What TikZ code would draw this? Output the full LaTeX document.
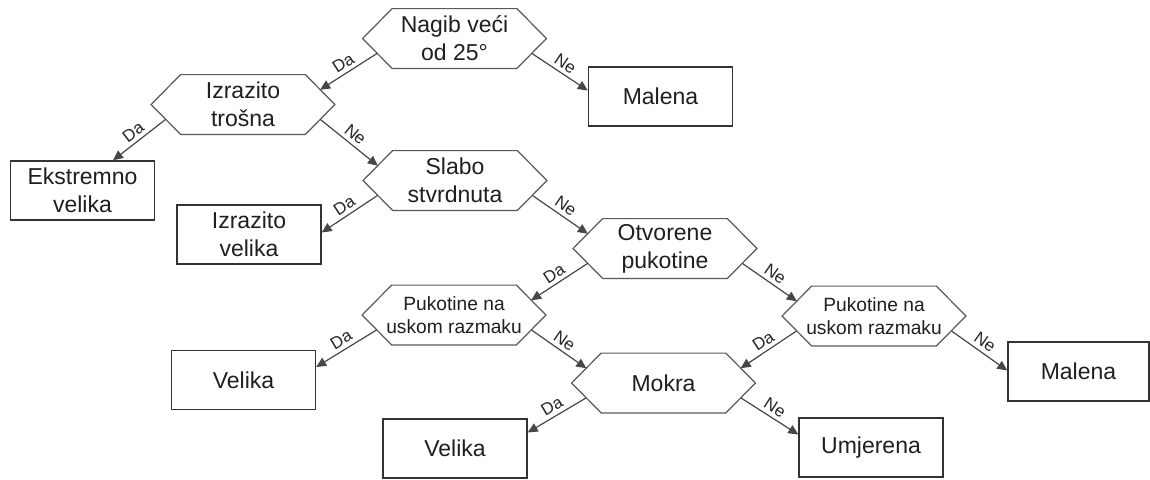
\documentclass[tikz,border=0pt]{standalone}
\usepackage{fontspec}
\setmainfont{Liberation Sans}
\usetikzlibrary{arrows.meta,calc}
\tikzset{
  hexbox/.style={draw=none, minimum width=91.5pt, minimum height=29.5pt, inner sep=0pt, align=center, text=black!88},
  bigtext/.style={font=\fontsize{11.5}{14}\selectfont},
  smalltext/.style={font=\fontsize{9.6}{11.6}\selectfont},
  hexline/.style={draw=black!65, line width=0.6pt, line join=miter},
  leaf/.style={draw=black!80, line width=0.7pt, minimum width=72pt, minimum height=29.5pt, inner sep=0pt, align=center, text=black!88, font=\fontsize{11.5}{14}\selectfont},
  arr/.style={draw=black!72, line width=0.6pt, -{Triangle[length=5pt,width=4.6pt]}},
  darr/.style={draw=black!72, line width=0.6pt, {Triangle[length=5pt,width=4.6pt]}-},
  lab/.style={font=\fontsize{8.5}{9.5}\selectfont, text=black!85, sloped, above, inner sep=1.8pt, midway}
}
\newcommand\hexnode[4]{%
  \node[hexbox,#3] (#1) at (#2) {#4};
  \draw[hexline] (#1.west) -- ([xshift=14.75pt]#1.north west) -- ([xshift=-14.75pt]#1.north east) -- (#1.east) -- ([xshift=-14.75pt]#1.south east) -- ([xshift=14.75pt]#1.south west) -- cycle;
  \coordinate (#1-ul) at ([xshift=7.375pt,yshift=7.375pt]#1.west);
  \coordinate (#1-ll) at ([xshift=7.375pt,yshift=-7.375pt]#1.west);
  \coordinate (#1-ur) at ([xshift=-7.375pt,yshift=7.375pt]#1.east);
  \coordinate (#1-lr) at ([xshift=-7.375pt,yshift=-7.375pt]#1.east);
}
\begin{document}
\begin{tikzpicture}[x=0.5pt,y=-0.5pt]
\useasboundingbox[fill=white] (0,0) rectangle (1150,479);
% decision hexagons
\hexnode{n1}{454.5,38.5}{bigtext}{Nagib veći\\od 25°}
\hexnode{n2}{243,104.5}{bigtext}{Izrazito\\trošna}
\hexnode{n3}{455,180.5}{bigtext}{Slabo\\stvrdnuta}
\hexnode{n4}{665,248.5}{bigtext}{Otvorene\\pukotine}
\hexnode{n5}{454,315}{smalltext}{Pukotine na\\uskom razmaku}
\hexnode{n6}{874,316}{smalltext}{Pukotine na\\uskom razmaku}
\hexnode{n7}{663.5,383}{bigtext}{Mokra}
% leaves
\node[leaf] (b1) at (660.5,96.5) {Malena};
\node[leaf] (b2) at (82.5,190.5) {Ekstremno\\velika};
\node[leaf] (b3) at (249,234.5) {Izrazito\\velika};
\node[leaf] (b4) at (243.5,380) {Velika};
\node[leaf] (b5) at (455,448.5) {Velika};
\node[leaf, minimum width=70.5pt] (b6) at (1078.5,371.5) {Malena};
\node[leaf] (b7) at (871,447.5) {Umjerena};
% target points on leaves
\coordinate (t1) at ($(b1.west)+(0,-6)$);
\coordinate (t2) at ($(b2.north)+(30.5,0)$);
\coordinate (t3) at ($(b3.east)+(0,-2)$);
\coordinate (t4) at ($(b4.east)+(0,-13)$);
\coordinate (t5) at ($(b5.east)+(0,-16)$);
\coordinate (t6) at ($(b6.west)+(0,-1)$);
\coordinate (t7) at ($(b7.west)+(0,-13)$);
% connectors
\draw[darr] (n2-ur) -- node[lab]{Da} (n1-ll);
\draw[arr] (n1-lr) -- node[lab]{Ne} (t1);
\draw[darr] (t2) -- node[lab]{Da} (n2-ll);
\draw[arr] (n2-lr) -- node[lab]{Ne} (n3-ul);
\draw[darr] (t3) -- node[lab]{Da} (n3-ll);
\draw[arr] (n3-lr) -- node[lab]{Ne} (n4-ul);
\draw[darr] (n5-ur) -- node[lab]{Da} (n4-ll);
\draw[arr] (n4-lr) -- node[lab]{Ne} (n6-ul);
\draw[darr] (t4) -- node[lab]{Da} (n5-ll);
\draw[arr] (n5-lr) -- node[lab]{Ne} (n7-ul);
\draw[darr] (n7-ur) -- node[lab]{Da} (n6-ll);
\draw[arr] (n6-lr) -- node[lab]{Ne} (t6);
\draw[darr] (t5) -- node[lab]{Da} (n7-ll);
\draw[arr] (n7-lr) -- node[lab]{Ne} (t7);
\end{tikzpicture}
\end{document}
